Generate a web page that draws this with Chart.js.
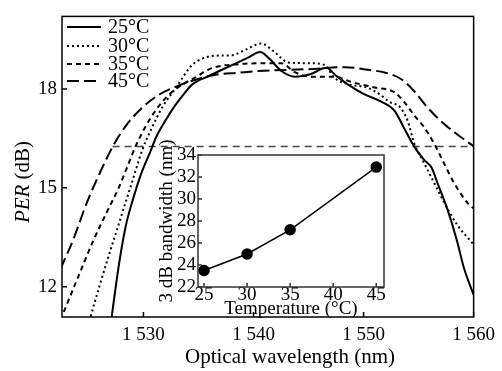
<!DOCTYPE html>
<html><head><meta charset="utf-8">
<script src="https://cdn.jsdelivr.net/npm/chart.js@4.4.1/dist/chart.umd.min.js"></script>
<style>
html,body{margin:0;padding:0;background:#fff;}
#wrap{position:relative;width:502px;height:371px;background:#fff;}
#main{position:absolute;left:0;top:0;}
#inset{position:absolute;left:130px;top:140px;}
</style></head><body>
<div id="wrap"><canvas id="main" width="502" height="371"></canvas><canvas id="inset" width="262" height="180"></canvas></div>
<script>
const FONT = "'Liberation Serif','Times New Roman',serif";

// ---- main chart data ----
const seriesLabels = ['25°C', '30°C', '35°C', '45°C'];
const xTickValues = [1530, 1540, 1550, 1560];
const yTickValues = [12, 15, 18];

const wl25  = [1527.0,1527.75,1528.38,1529.1,1529.82,1530.63,1531.17,1531.98,1532.88,1533.78,1534.41,1536.0,1537.7,1539.5,1540.6,1541.5,1542.5,1543.8,1545.2,1546.6,1547.5,1548.6,1550.0,1551.5,1552.8,1553.7,1554.6,1555.5,1556.2,1556.7,1557.6,1558.5,1559.1,1560.0];
const per25 = [10.8,12.62,13.82,14.71,15.45,16.1,16.55,17.03,17.5,17.89,18.13,18.4,18.67,18.95,19.12,18.9,18.55,18.37,18.45,18.64,18.4,18.13,17.85,17.63,17.34,16.8,16.25,15.85,15.6,15.16,14.37,13.38,12.59,11.75];

const wl30  = [1524.96,1526.04,1526.94,1527.84,1528.89,1529.91,1530.81,1531.71,1532.94,1534.41,1535.67,1536.83,1538.0,1539.35,1540.7,1541.8,1543.2,1545.2,1546.5,1547.3,1548.5,1550.4,1551.4,1552.4,1553.3,1554.0,1554.6,1555.5,1556.4,1557.3,1558.5,1560.0];
const per30 = [10.81,12.06,13.04,13.99,15.09,16.16,16.85,17.44,18.03,18.72,18.96,19.01,19.02,19.2,19.38,19.15,18.8,18.78,18.72,18.35,18.15,18.03,17.85,17.6,17.45,17.04,16.35,15.75,15.16,14.57,13.88,13.28];

const wl35  = [1522.45,1524.06,1525.41,1526.67,1527.75,1528.56,1529.28,1530.18,1531.17,1532.16,1533.24,1534.68,1536.21,1538.63,1541.33,1542.5,1543.8,1545.2,1547.4,1548.8,1551.0,1552.8,1553.7,1554.6,1555.5,1556.4,1557.3,1558.2,1559.5,1560.0];
const per35 = [10.98,12.29,13.37,14.26,15.0,15.66,16.25,16.85,17.38,17.77,18.07,18.34,18.63,18.75,18.78,18.78,18.5,18.37,18.37,18.22,18.04,17.9,17.6,17.2,16.84,16.35,15.75,15.16,14.52,14.37];

const wl45  = [1522.45,1523.61,1524.87,1526.04,1527.21,1528.47,1529.91,1531.44,1532.97,1535.04,1536.56,1538.63,1540.43,1545.0,1548.3,1550.6,1551.9,1553.4,1554.6,1555.8,1557.3,1558.8,1560.0];
const per45 = [12.53,13.42,14.56,15.45,16.25,16.91,17.44,17.83,18.07,18.31,18.43,18.49,18.54,18.6,18.66,18.57,18.5,18.3,17.93,17.44,16.94,16.55,16.26];

const refWl  = [1527.2, 1560.0];   // 3 dB reference line
const refPer = [16.25, 16.25];

// ---- inset data ----
const temps = [25, 30, 35, 45];
const bandwidth = [23.5, 25.0, 27.2, 32.9];
const insetXTicks = [25, 30, 35, 40, 45];
const insetYTicks = [22, 24, 26, 28, 30, 32, 34];

const pts = (xs, ys) => xs.map((x, i) => ({x: x, y: ys[i]}));
const styles = [
  {dash: []},
  {dash: [2, 3]},
  {dash: [5, 4]},
  {dash: [12, 5]}
];
const mainSets = [[wl25, per25], [wl30, per30], [wl35, per35], [wl45, per45]].map((s, i) => ({
  label: seriesLabels[i],
  data: pts(s[0], s[1]),
  borderColor: '#000',
  borderWidth: 2,
  borderDash: styles[i].dash,
  pointRadius: 0,
  cubicInterpolationMode: 'monotone',
  fill: false
}));
mainSets.push({
  label: 'ref',
  data: pts(refWl, refPer),
  borderColor: '#444',
  borderWidth: 1.5,
  borderDash: [7, 5],
  pointRadius: 0,
  fill: false
});

const fmtWl = v => { const s = String(v); return s.charAt(0) + ' ' + s.slice(1); };

const mainPlugin = {
  id: 'mainDecor',
  afterDraw(chart) {
    const {ctx, chartArea: a, scales: {x, y}} = chart;
    ctx.save();
    ctx.strokeStyle = '#000';
    ctx.lineWidth = 1.5;
    ctx.setLineDash([]);
    ctx.strokeRect(a.left, a.top, a.right - a.left, a.bottom - a.top);
    ctx.beginPath();
    x.ticks.forEach(t => { const px = x.getPixelForValue(t.value); ctx.moveTo(px, a.bottom); ctx.lineTo(px, a.bottom - 5); });
    y.ticks.forEach(t => { const py = y.getPixelForValue(t.value); ctx.moveTo(a.left, py); ctx.lineTo(a.left + 5, py); });
    ctx.stroke();
    // legend
    const ly = [27, 46, 64, 81];
    ctx.font = '20px ' + FONT;
    ctx.fillStyle = '#000';
    ctx.textBaseline = 'middle';
    ctx.textAlign = 'left';
    for (let i = 0; i < 4; i++) {
      const ds = chart.data.datasets[i];
      ctx.beginPath();
      ctx.lineWidth = 2;
      ctx.setLineDash(ds.borderDash);
      ctx.moveTo(67, ly[i]);
      ctx.lineTo(101, ly[i]);
      ctx.stroke();
      ctx.setLineDash([]);
      ctx.fillText(ds.label, 108, ly[i] + 1);
    }
    // x title
    ctx.font = '21px ' + FONT;
    ctx.textAlign = 'center';
    ctx.fillText('Optical wavelength (nm)', 290, 357);
    // y title (PER italic)
    ctx.translate(23, 182);
    ctx.rotate(-Math.PI / 2);
    const it = 'italic 21px ' + FONT, nm = '21px ' + FONT;
    ctx.font = it; const w1 = ctx.measureText('PER').width;
    ctx.font = nm; const w2 = ctx.measureText(' (dB)').width;
    const start = -(w1 + w2) / 2;
    ctx.textAlign = 'left';
    ctx.font = it; ctx.fillText('PER', start, 0);
    ctx.font = nm; ctx.fillText(' (dB)', start + w1, 0);
    ctx.restore();
  }
};

new Chart(document.getElementById('main'), {
  type: 'line',
  data: {datasets: mainSets},
  options: {
    responsive: false,
    animation: false,
    layout: {padding: {left: 0, top: 10, right: 24, bottom: 0}},
    plugins: {legend: {display: false}, tooltip: {enabled: false}},
    scales: {
      x: {
        type: 'linear', min: 1522.6, max: 1560,
        grid: {display: false, drawTicks: false},
        border: {display: false},
        afterBuildTicks: s => { s.ticks = xTickValues.map(v => ({value: v})); },
        afterFit: s => { s.height = 54; },
        ticks: {padding: 7, color: '#000', font: {family: FONT, size: 19}, maxRotation: 0, autoSkip: false, callback: v => fmtWl(v)}
      },
      y: {
        type: 'linear', min: 11.08, max: 20.2,
        grid: {display: false, drawTicks: false},
        border: {display: false},
        afterBuildTicks: s => { s.ticks = yTickValues.map(v => ({value: v})); },
        afterFit: s => { s.width = 62; },
        ticks: {padding: 5, color: '#000', font: {family: FONT, size: 19}, autoSkip: false}
      }
    }
  },
  plugins: [mainPlugin]
});

const insetPlugin = {
  id: 'insetDecor',
  beforeDatasetsDraw(chart) {
    const {ctx, chartArea: a} = chart;
    ctx.save();
    ctx.fillStyle = '#fff';
    ctx.fillRect(a.left, a.top, a.right - a.left, a.bottom - a.top);
    ctx.restore();
  },
  afterDraw(chart) {
    const {ctx, chartArea: a, scales: {x, y}} = chart;
    ctx.save();
    ctx.strokeStyle = '#333';
    ctx.lineWidth = 1.5;
    ctx.strokeRect(a.left, a.top, a.right - a.left, a.bottom - a.top);
    ctx.beginPath();
    x.ticks.forEach(t => { const px = x.getPixelForValue(t.value); ctx.moveTo(px, a.bottom); ctx.lineTo(px, a.bottom - 4); });
    y.ticks.forEach(t => { const py = y.getPixelForValue(t.value); ctx.moveTo(a.left, py); ctx.lineTo(a.left + 4, py); });
    ctx.stroke();
    ctx.restore();
  }
};

new Chart(document.getElementById('inset'), {
  type: 'line',
  data: {datasets: [{
    data: pts(temps, bandwidth),
    borderColor: '#000', borderWidth: 1.5,
    pointRadius: 5, pointBackgroundColor: '#000', pointBorderColor: '#000',
    tension: 0, fill: false
  }]},
  options: {
    responsive: false,
    animation: false,
    layout: {padding: {left: 26, top: 15, right: 8, bottom: 0}},
    plugins: {legend: {display: false}, tooltip: {enabled: false}},
    scales: {
      x: {
        type: 'linear', min: 24.3, max: 45.9,
        grid: {display: false, drawTicks: false},
        border: {display: false},
        afterBuildTicks: s => { s.ticks = insetXTicks.map(v => ({value: v})); },
        afterFit: s => { s.height = 33; },
        ticks: {padding: -3, color: '#000', font: {family: FONT, size: 19}, maxRotation: 0, autoSkip: false},
        title: {display: true, text: 'Temperature (°C)', color: '#000', font: {family: FONT, size: 19}, padding: 0}
      },
      y: {
        type: 'linear', min: 22, max: 34,
        grid: {display: false, drawTicks: false},
        border: {display: false},
        afterBuildTicks: s => { s.ticks = insetYTicks.map(v => ({value: v})); },
        afterFit: s => { s.width = 42; },
        ticks: {padding: 2, color: '#000', font: {family: FONT, size: 19}, autoSkip: false},
        title: {display: true, text: '3 dB bandwidth (nm)', color: '#000', font: {family: FONT, size: 19}, padding: 0}
      }
    }
  },
  plugins: [insetPlugin]
});
</script>
</body></html>
